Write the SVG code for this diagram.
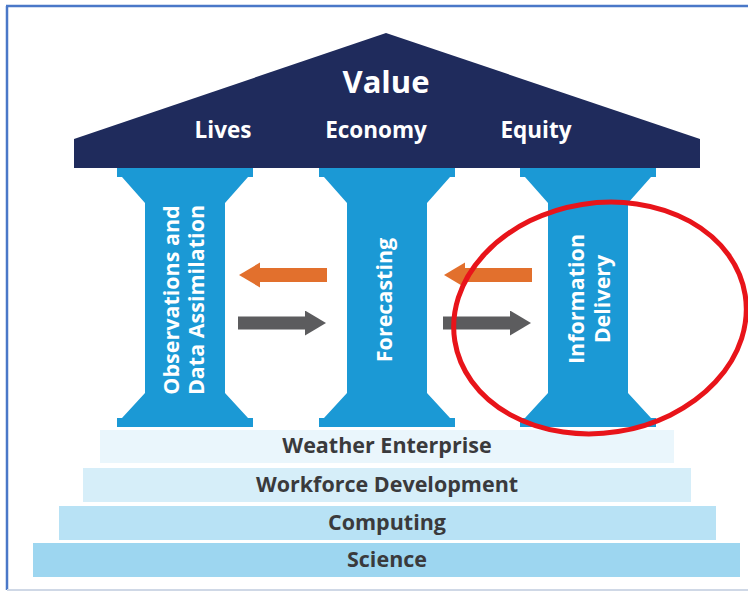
<svg xmlns="http://www.w3.org/2000/svg" width="748" height="592" viewBox="0 0 748 592">
  <style>
    .roof{fill:#1f2b5c}
    .col{fill:#1b99d5}
    .t{font-family:"Open Sans","Liberation Sans",sans-serif;font-weight:700;text-anchor:middle}
    .w{fill:#ffffff}
    .d{fill:#3a3a3c}
    .orange{stroke:#e2702d;stroke-width:14;fill:none}
    .gray{stroke:#5c5c5e;stroke-width:13;fill:none}
  </style>
  <defs>
    <path id="pillar" d="M-68,168 H68 V177 H63 L40,203 V393 L63,418 H68 V427 H-68 V418 H-63 L-40,393 V203 L-63,177 H-68 Z"/>
    <marker id="ho" markerUnits="userSpaceOnUse" markerWidth="22" markerHeight="26" refX="0" refY="12.5" orient="auto">
      <path d="M0,0 L21,12.5 L0,25 Z" fill="#e2702d"/>
    </marker>
    <marker id="hg" markerUnits="userSpaceOnUse" markerWidth="22" markerHeight="26" refX="0" refY="12.5" orient="auto">
      <path d="M0,0 L21,12.5 L0,25 Z" fill="#5c5c5e"/>
    </marker>
  </defs>
  <rect width="748" height="592" fill="#ffffff"/>
  <!-- frame -->
  <g id="frame">
    <line x1="6" y1="6" x2="748" y2="6" stroke="#4a78c8" stroke-width="2.5"/>
    <line x1="7" y1="6" x2="7" y2="590" stroke="#4a78c8" stroke-width="2.5"/>
    <line x1="7" y1="590" x2="748" y2="590" stroke="#cfd8e6" stroke-width="2"/>
  </g>

  <g id="foundation">
    <g id="weather-enterprise">
      <rect x="100" y="430" width="574" height="33" fill="#eaf6fc"/>
      <text class="t d" x="387" y="453" font-size="21.5">Weather Enterprise</text>
    </g>
    <g id="workforce-development">
      <rect x="83" y="468" width="608" height="34" fill="#d6eef9"/>
      <text class="t d" x="387" y="492" font-size="21.5">Workforce Development</text>
    </g>
    <g id="computing">
      <rect x="59" y="506" width="657" height="34" fill="#b8e2f5"/>
      <text class="t d" x="387" y="530" font-size="21.5">Computing</text>
    </g>
    <g id="science">
      <rect x="33" y="543" width="707" height="34" fill="#9dd6f0"/>
      <text class="t d" x="387" y="567" font-size="21.5">Science</text>
    </g>
  </g>

  <g id="roof">
    <polygon class="roof" points="386,33 700,139 700,168 74,168 74,139"/>
    <text class="t w" x="386" y="93" font-size="31">Value</text>
    <text class="t w" x="223" y="138" font-size="22.5">Lives</text>
    <text class="t w" x="376" y="138" font-size="22.5">Economy</text>
    <text class="t w" x="536" y="138" font-size="22.5">Equity</text>
  </g>

  <g id="observations">
    <use href="#pillar" class="col" transform="translate(185,0)"/>
    <text class="t w" font-size="21.5" transform="translate(179,300) rotate(-90)">Observations and</text>
    <text class="t w" font-size="21.5" transform="translate(204,300) rotate(-90)">Data Assimilation</text>
  </g>
  <g id="forecasting">
    <use href="#pillar" class="col" transform="translate(387,0)"/>
    <text class="t w" font-size="21.5" transform="translate(392,300) rotate(-90)">Forecasting</text>
  </g>
  <g id="information-delivery">
    <use href="#pillar" class="col" transform="translate(588,0)"/>
    <text class="t w" font-size="21.5" transform="translate(584,299) rotate(-90)">Information</text>
    <text class="t w" font-size="21.5" transform="translate(610,299) rotate(-90)">Delivery</text>
  </g>

  <g id="connectors">
    <line class="orange" x1="327" y1="275" x2="260" y2="275" marker-end="url(#ho)"/>
    <line class="gray" x1="238" y1="323" x2="305" y2="323" marker-end="url(#hg)"/>
    <line class="orange" x1="532" y1="275" x2="465" y2="275" marker-end="url(#ho)"/>
    <line class="gray" x1="443" y1="323" x2="510" y2="323" marker-end="url(#hg)"/>
  </g>

  <g id="highlight">
    <ellipse cx="600" cy="318" rx="147" ry="115" transform="rotate(-9 600 318)" fill="none" stroke="#e8141a" stroke-width="5"/>
  </g>
</svg>
